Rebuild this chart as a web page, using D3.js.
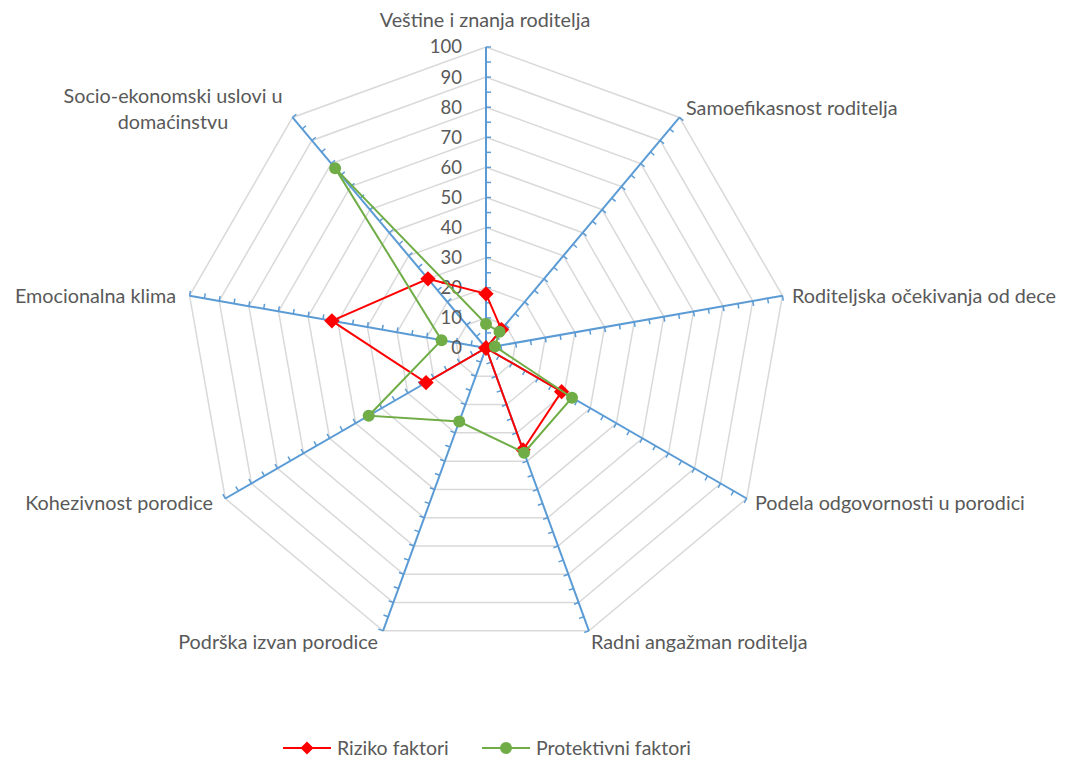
<!DOCTYPE html>
<html>
<head>
<meta charset="utf-8">
<script src="https://cdn.jsdelivr.net/npm/d3@7"></script>
<style>
  body { margin: 0; background: #fff; }
  svg { display: block; }
  text { font-family: Lato, "Open Sans", sans-serif; fill: #595959; }
</style>
</head>
<body>
<svg id="chart" width="1070" height="762"></svg>
<script>
// Factors shown on the radar axes (clockwise from the top)
const categories = [
  "Veštine i znanja roditelja",
  "Samoefikasnost roditelja",
  "Roditeljska očekivanja od dece",
  "Podela odgovornosti u porodici",
  "Radni angažman roditelja",
  "Podrška izvan porodice",
  "Kohezivnost porodice",
  "Emocionalna klima",
  "Socio-ekonomski uslovi u domaćinstvu"
];
const rizikoValues = [18, 8, 0, 29, 36, 0, 23, 52, 30];
const protektivniValues = [8, 7, 3, 33, 37, 26, 45, 15, 78];
const tickValues = [0, 10, 20, 30, 40, 50, 60, 70, 80, 90, 100];
const seriesNames = ["Riziko faktori", "Protektivni faktori"];

const svg = d3.select("#chart");
const cx = 486, cy = 348, R = 301;
const r = d3.scaleLinear().domain([0, 100]).range([0, R]);
const angle = d3.scaleLinear().domain([0, categories.length]).range([0, 2 * Math.PI]);

const pt = (i, v) => {
  const a = angle(i);
  return [cx + Math.sin(a) * r(v), cy - Math.cos(a) * r(v)];
};

const g = svg.append("g");

// Grid polygons
g.selectAll("path.grid")
  .data(tickValues.filter(t => t > 0))
  .join("path")
  .attr("class", "grid")
  .attr("d", t => d3.line()(categories.map((c, i) => pt(i, t))) + "Z")
  .attr("fill", "none")
  .attr("stroke", "#d9d9d9")
  .attr("stroke-width", 1.5);

// Axis spokes with minor tick marks
const minorTicks = d3.range(0, 101, 5);
categories.forEach((c, i) => {
  const [x1, y1] = pt(i, 100);
  g.append("line")
    .attr("x1", cx).attr("y1", cy).attr("x2", x1).attr("y2", y1)
    .attr("stroke", "#5b9bd5").attr("stroke-width", 2);
  const a = angle(i);
  const nx = Math.cos(a), ny = Math.sin(a); // clockwise normal
  g.selectAll(null)
    .data(minorTicks)
    .join("line")
    .attr("x1", v => pt(i, v)[0])
    .attr("y1", v => pt(i, v)[1])
    .attr("x2", v => pt(i, v)[0] + nx * 5)
    .attr("y2", v => pt(i, v)[1] + ny * 5)
    .attr("stroke", "#5b9bd5").attr("stroke-width", 1.5);
});

// Value labels along the top spoke
g.selectAll("text.tick")
  .data(tickValues)
  .join("text")
  .attr("class", "tick")
  .attr("x", cx - 24)
  .attr("y", t => cy - r(t))
  .attr("dy", "0.35em")
  .attr("text-anchor", "end")
  .style("font-size", "18.5px")
  .text(t => t);

// Category labels
const labelPos = [
  { x: 485, y: 20, anchor: "middle" },
  { x: 686, y: 108, anchor: "start" },
  { x: 792, y: 296, anchor: "start" },
  { x: 755, y: 503, anchor: "start" },
  { x: 591, y: 642, anchor: "start" },
  { x: 378, y: 642, anchor: "end" },
  { x: 213, y: 503, anchor: "end" },
  { x: 176, y: 296, anchor: "end" },
  { x: 173, y: 96, anchor: "middle" }
];
categories.forEach((c, i) => {
  const p = labelPos[i];
  const lines = i === 8 ? ["Socio-ekonomski uslovi u", "domaćinstvu"] : [c];
  const t = g.append("text")
    .attr("x", p.x).attr("y", p.y)
    .attr("text-anchor", p.anchor)
    .style("font-size", "19.8px");
  lines.forEach((l, k) => {
    t.append("tspan").attr("x", p.x).attr("dy", k === 0 ? "0.35em" : "26px").text(l);
  });
});

const radarLine = vals => d3.line()(vals.map((v, i) => pt(i, v))) + "Z";
const diamond = d3.symbol().type(d3.symbolDiamond2).size(150);

// Riziko series
g.append("path")
  .attr("d", radarLine(rizikoValues))
  .attr("fill", "none").attr("stroke", "#ff0000").attr("stroke-width", 2);
g.selectAll("path.rz")
  .data(rizikoValues)
  .join("path")
  .attr("class", "rz")
  .attr("transform", (v, i) => `translate(${pt(i, v)})`)
  .attr("d", diamond)
  .attr("fill", "#ff0000");

// Protektivni series
g.append("path")
  .attr("d", radarLine(protektivniValues))
  .attr("fill", "none").attr("stroke", "#70ad47").attr("stroke-width", 2);
g.selectAll("circle.pr")
  .data(protektivniValues)
  .join("circle")
  .attr("class", "pr")
  .attr("cx", (v, i) => pt(i, v)[0])
  .attr("cy", (v, i) => pt(i, v)[1])
  .attr("r", 6)
  .attr("fill", "#70ad47");

// Legend
const legend = svg.append("g").attr("transform", "translate(0,748)");
const lg = [
  { x: 283, color: "#ff0000", marker: "diamond" },
  { x: 482, color: "#70ad47", marker: "circle" }
];
lg.forEach((d, k) => {
  legend.append("line")
    .attr("x1", d.x).attr("x2", d.x + 48).attr("y1", 0).attr("y2", 0)
    .attr("stroke", d.color).attr("stroke-width", 2);
  if (d.marker === "diamond") {
    legend.append("path").attr("d", d3.symbol().type(d3.symbolDiamond2).size(110))
      .attr("transform", `translate(${d.x + 24},0)`).attr("fill", d.color);
  } else {
    legend.append("circle").attr("cx", d.x + 24).attr("cy", 0).attr("r", 6).attr("fill", d.color);
  }
  legend.append("text")
    .attr("x", d.x + 54).attr("y", 0).attr("dy", "0.35em")
    .style("font-size", "19.5px")
    .text(seriesNames[k]);
});
</script>
</body>
</html>
